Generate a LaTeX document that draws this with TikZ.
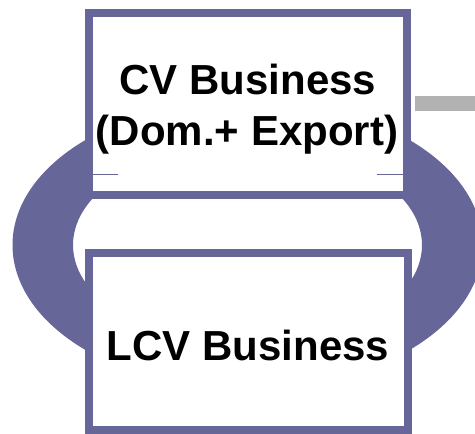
\documentclass[tikz,border=0pt]{standalone}
\usepackage{fontspec}
\setmainfont{Liberation Sans}
\definecolor{ringpurple}{HTML}{666699}
\definecolor{bargray}{HTML}{B2B2B2}
\begin{document}
\begin{tikzpicture}[x=1pt,y=-1pt,
  bizbox/.style={draw=ringpurple, fill=white, line width=8pt, rectangle, inner sep=0pt},
  biztext/.style={font=\bfseries\fontsize{42}{48}\selectfont, text=black, anchor=base, inner sep=0pt},
  thinline/.style={draw=ringpurple, line width=1pt}]
\useasboundingbox (0,0) rectangle (475,434);
\clip (0,0) rectangle (475,434);
% ring
\fill[ringpurple, even odd rule] (247.5,245) ellipse [x radius=235, y radius=145]
  (247.5,245) ellipse [x radius=174.5, y radius=101];
% boxes
\node[bizbox, minimum width=318pt, minimum height=182.5pt] (cv) at (248,103.75) {};
\coordinate (exit) at (476,103.75);
\draw[bargray, line width=15pt] (cv.east) ++(4,0) -- (exit);
\node[bizbox, minimum width=318.5pt, minimum height=177.5pt] (lcv) at (248.25,341.25) {};
% thin lines inside top box
\coordinate (l1) at (92.7,174); \coordinate (l2) at (118,174);
\coordinate (r1) at (376.7,174); \coordinate (r2) at (402.7,174);
\draw[thinline] (l1) -- (l2);
\draw[thinline] (r1) -- (r2);
% texts
\node[biztext] (t1) at (248,94) {CV Business};
\node[biztext] (t2) at (247,145) {(Dom.+ Export)};
\node[biztext] (t3) at (248,360) {LCV Business};
\end{tikzpicture}
\end{document}
